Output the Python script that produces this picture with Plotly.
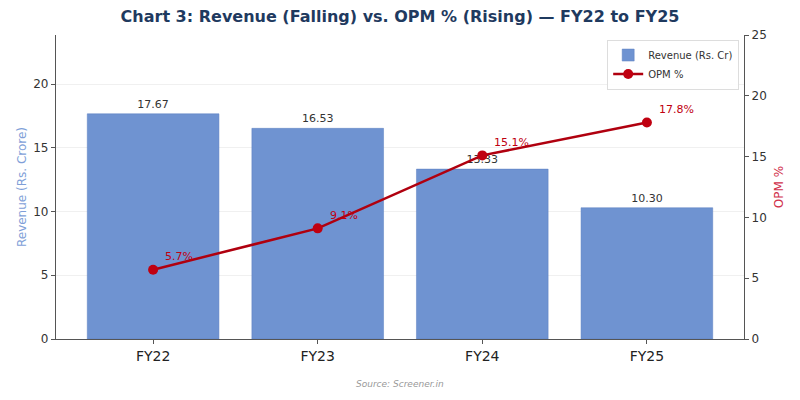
import plotly.graph_objects as go

years = ["FY22", "FY23", "FY24", "FY25"]
revenue = [17.67, 16.53, 13.33, 10.30]
opm = [5.7, 9.1, 15.1, 17.8]
rev_labels = ["17.67", "16.53", "13.33", "10.30"]
opm_labels = ["5.7%", "9.1%", "15.1%", "17.8%"]

FONT = "DejaVu Sans"
BAR = "#6f93d1"
RED = "#c00010"

fig = go.Figure()
fig.add_trace(go.Bar(
    x=list(range(len(years))), y=revenue, name="Revenue (Rs. Cr)",
    marker=dict(color=BAR, line=dict(color="#5a7fc0", width=0.5)),
    width=0.8, text=rev_labels, textposition="outside",
    textfont=dict(size=11, color="#333333", family=FONT), cliponaxis=False,
))
fig.add_trace(go.Scatter(
    x=list(range(len(years))), y=opm, name="OPM %", yaxis="y2",
    mode="lines+markers",
    line=dict(color="#b0000f", width=2.5),
    marker=dict(color=RED, size=10),
))
for i, (v, t) in enumerate(zip(opm, opm_labels)):
    fig.add_annotation(x=i, y=v, yref="y2", text=t, showarrow=False,
                       xanchor="left", yanchor="middle", xshift=10, yshift=13,
                       font=dict(size=11, color=RED, family=FONT))

fig.add_annotation(x=0.5, y=-0.17, xref="paper", yref="paper", text="<i>Source: Screener.in</i>",
                   showarrow=False, font=dict(size=9, color="#999999", family=FONT))

fig.update_layout(
    width=800, height=400,
    margin=dict(l=56, r=56, t=35, b=61),
    paper_bgcolor="white", plot_bgcolor="white",
    font=dict(family=FONT, color="#333333"),
    title=dict(text="<b>Chart 3: Revenue (Falling) vs. OPM % (Rising) — FY22 to FY25</b>",
               x=0.5, xanchor="center", y=0.96, yanchor="middle",
               font=dict(size=16, color="#1f3a5f", family=FONT)),
    showlegend=True,
    legend=dict(x=0.993, y=0.985, xanchor="right", yanchor="top",
                bgcolor="rgba(255,255,255,0.9)", bordercolor="#dddddd", borderwidth=1,
                font=dict(size=10, color="#333333", family=FONT),
                tracegroupgap=0, itemwidth=30),
    xaxis=dict(range=[-0.59, 3.59], tickmode="array", tickvals=list(range(len(years))),
               ticktext=years, tickfont=dict(size=14, color="#222222"),
               showline=True, linecolor="#555555", linewidth=1.2,
               ticks="outside", ticklen=4, tickcolor="#555555", showgrid=False, zeroline=False),
    yaxis=dict(range=[0, 17.67 * 1.35], tickvals=[0, 5, 10, 15, 20],
               tickfont=dict(size=12, color="#333333"),
               title=dict(text="Revenue (Rs. Crore)", font=dict(size=12, color="#7f9fd8"), standoff=4),
               showline=True, linecolor="#555555", linewidth=1.2,
               ticks="outside", ticklen=4, tickcolor="#555555",
               showgrid=True, gridcolor="#f0f0f0", zeroline=False),
    yaxis2=dict(range=[0, 25], tickvals=[0, 5, 10, 15, 20, 25], overlaying="y", side="right",
                tickfont=dict(size=12, color="#333333"),
                title=dict(text="OPM %", font=dict(size=12, color="#d0304a"), standoff=8),
                showline=True, linecolor="#555555", linewidth=1.2,
                ticks="outside", ticklen=4, tickcolor="#555555",
                showgrid=False, zeroline=False),
    bargap=0.2,
)

fig.write_html("out.html")
